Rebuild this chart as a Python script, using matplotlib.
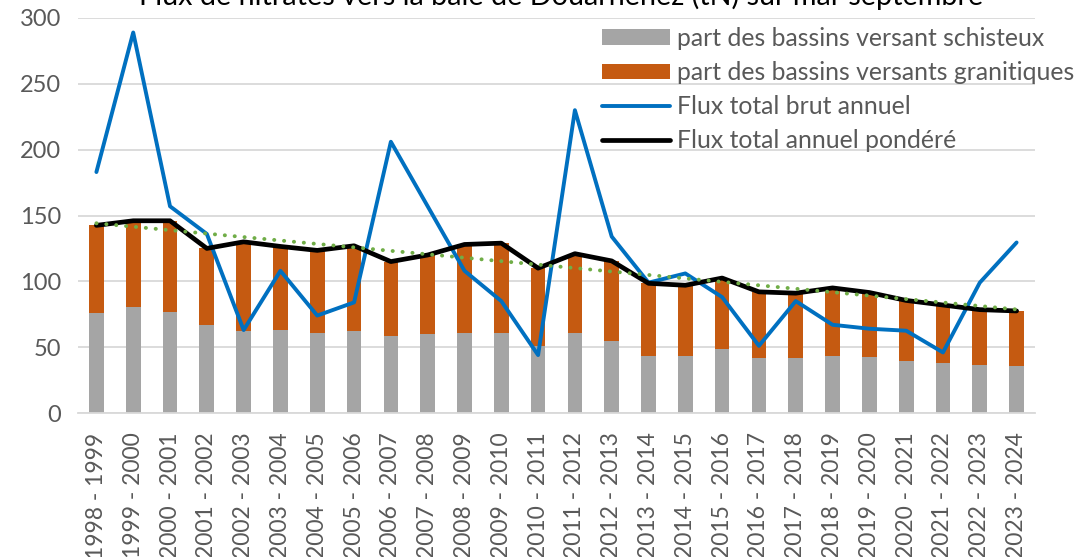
import matplotlib
matplotlib.use('Agg')
from matplotlib import pyplot as plt
import numpy as np

# campagnes (mai-septembre)
periodes = ['1998 - 1999', '1999 - 2000', '2000 - 2001', '2001 - 2002', '2002 - 2003',
	'2003 - 2004', '2004 - 2005', '2005 - 2006', '2006 - 2007', '2007 - 2008',
	'2008 - 2009', '2009 - 2010', '2010 - 2011', '2011 - 2012', '2012 - 2013',
	'2013 - 2014', '2014 - 2015', '2015 - 2016', '2016 - 2017', '2017 - 2018',
	'2018 - 2019', '2019 - 2020', '2020 - 2021', '2021 - 2022', '2022 - 2023',
	'2023 - 2024']

# flux en tN
schisteux = [75.7, 80.5, 76.7, 67, 62.3, 63, 60.5, 62.3, 58.5, 60,
	61, 61, 51, 61, 54.7, 43.5, 43.5, 48.4, 42, 42,
	43.5, 42.5, 39.5, 38, 36.5, 35.7]
granitiques = [66.8, 65.5, 69.3, 58, 67.7, 63.5, 63, 64.7, 56.5, 60,
	67, 68, 59, 60, 60.8, 55, 53.5, 54.1, 50, 49,
	51.5, 49, 46, 44, 42, 41.8]
brut = [183, 289, 157, 136, 63, 108, 74, 84, 206, 157,
	108, 85, 44, 230, 134, 99, 106, 88, 51, 85,
	67, 64, 62.5, 46, 99, 129.5]
pondere = [142.5, 146, 146, 125, 130, 126.5, 123.5, 127, 115, 120,
	128, 129, 110, 121, 115.5, 98.5, 97, 102.5, 92, 91,
	95, 91.5, 85.5, 82, 78.5, 77.5]

plt.rcParams['font.family'] = ['Lato', 'DejaVu Sans']

fig = plt.figure(figsize=(10.77, 5.57), dpi=100)
ax = fig.add_axes([78 / 1077, 1 - 413 / 557, (1035 - 78) / 1077, (413 - 18) / 557])

x = np.arange(len(periodes))
b1 = ax.bar(x, schisteux, width=0.4, color='#A5A5A5', label='part des bassins versant schisteux', zorder=2)
b2 = ax.bar(x, granitiques, width=0.4, bottom=schisteux, color='#C55A11',
	label='part des bassins versants granitiques', zorder=2)
l1, = ax.plot(x, brut, color='#0070C0', lw=2.8, solid_capstyle='round', solid_joinstyle='round',
	label='Flux total brut annuel', zorder=3)
l2, = ax.plot(x, pondere, color='black', lw=3.4, solid_capstyle='round', solid_joinstyle='round',
	label='Flux total annuel pondéré', zorder=4)

# tendance linéaire (courbe de tendance Excel)
coef = np.polyfit(x, pondere, 1)
ax.plot(x, np.polyval(coef, x), color='#70AD47', lw=2.8, linestyle=(0, (0.05, 2.5)),
	dash_capstyle='round', zorder=5)

ax.set_xlim(-0.5, len(periodes) - 0.5)
ax.set_ylim(0, 300)
ax.set_yticks(range(0, 301, 50))
ax.set_xticks(x)
ax.set_xticklabels(periodes, rotation=90, fontsize=16.5, color='#595959')
ax.tick_params(axis='y', labelsize=17, colors='#595959', length=0, pad=12)
ax.tick_params(axis='x', length=0, pad=14)
ax.grid(axis='y', color='#D9D9D9', lw=1.3, zorder=0)
ax.set_axisbelow(True)
for s in ['top', 'right', 'left']:
	ax.spines[s].set_visible(False)
ax.spines['bottom'].set_color('#D9D9D9')
ax.spines['bottom'].set_linewidth(1.3)

fig.text(561 / 1077, 1 - 5 / 557, 'Flux de nitrates vers la baie de Douarnenez (tN) sur mai-septembre',
	ha='center', va='baseline', fontsize=20.7, color='black')

leg = fig.legend([b1, b2, l1, l2], [b1.get_label(), b2.get_label(), l1.get_label(), l2.get_label()],
	loc='upper left', bbox_to_anchor=(602 / 1077, 1 - 27 / 557), frameon=False,
	fontsize=17.8, handlelength=2.75, handleheight=0.6, handletextpad=0.28,
	labelspacing=0.45, borderpad=0, borderaxespad=0)
for t in leg.get_texts():
	t.set_color('#595959')

plt.savefig('out.png', dpi=100)
